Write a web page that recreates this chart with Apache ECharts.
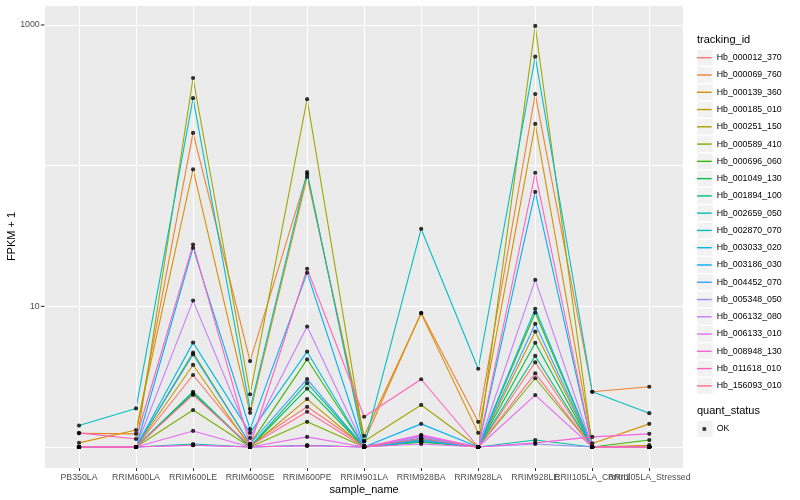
<!DOCTYPE html>
<html><head><meta charset="utf-8">
<script src="https://cdn.jsdelivr.net/npm/echarts@6/dist/echarts.min.js"></script>
<style>html,body{margin:0;padding:0;background:#fff}#c{width:800px;height:500px}</style>
</head><body><div id="c"></div>
<script>
// ---------- data (FPKM + 1) ----------
const categories = ['PB350LA','RRIM600LA','RRIM600LE','RRIM600SE','RRIM600PE','RRIM901LA','RRIM928BA','RRIM928LA','RRIM928LE','RRII105LA_Control','RRII105LA_Stressed'];
const trackingIds = ['Hb_000012_370','Hb_000069_760','Hb_000139_360','Hb_000185_010','Hb_000251_150','Hb_000589_410','Hb_000696_060','Hb_001049_130','Hb_001894_100','Hb_002659_050','Hb_002870_070','Hb_003033_020','Hb_003186_030','Hb_004452_070','Hb_005348_050','Hb_006132_080','Hb_006133_010','Hb_008948_130','Hb_011618_010','Hb_156093_010'];
const Hb_000012_370 = [1.0, 1.0, 3.25, 1.04, 1.93, 1.02, 1.12, 1.0, 4.0, 1.0, 1.0];
const Hb_000069_760 = [1.25, 1.24, 171, 4.08, 87, 1.10, 9.0, 1.51, 323, 2.47, 2.68];
const Hb_000139_360 = [1.07, 1.32, 94, 1.75, 83, 1.20, 8.9, 1.26, 198, 1.06, 1.46];
const Hb_000185_010 = [1.0, 1.0, 3.83, 1.0, 2.19, 1.0, 1.10, 1.0, 6.6, 1.0, 1.03];
const Hb_000251_150 = [1.0, 1.0, 420, 2.37, 297, 1.10, 1.99, 1.0, 984, 1.0, 1.0];
const Hb_000589_410 = [1.0, 1.0, 1.83, 1.0, 1.51, 1.0, 1.12, 1.0, 3.08, 1.0, 1.0];
const Hb_000696_060 = [1.0, 1.0, 4.68, 1.05, 4.2, 1.0, 1.08, 1.0, 9.0, 1.0, 1.12];
const Hb_001049_130 = [1.0, 1.0, 2.40, 1.0, 2.6, 1.0, 1.10, 1.0, 5.5, 1.0, 1.0];
const Hb_001894_100 = [1.0, 1.0, 2.47, 1.0, 2.84, 1.0, 1.15, 1.0, 4.44, 1.0, 1.0];
const Hb_002659_050 = [1.0, 1.0, 1.05, 1.0, 1.03, 1.0, 1.15, 1.0, 1.12, 1.0, 1.0];
const Hb_002870_070 = [1.42, 1.88, 302, 1.86, 90, 1.02, 35.5, 3.6, 595, 2.47, 1.74];
const Hb_003033_020 = [1.0, 1.0, 5.52, 1.26, 4.76, 1.0, 1.10, 1.0, 9.6, 1.0, 1.0];
const Hb_003186_030 = [1.0, 1.0, 26, 1.34, 17.3, 1.0, 1.46, 1.0, 65, 1.0, 1.0];
const Hb_004452_070 = [1.0, 1.0, 4.55, 1.05, 3.04, 1.0, 1.12, 1.0, 7.5, 1.0, 1.0];
const Hb_005348_050 = [1.0, 1.0, 1.03, 1.0, 1.02, 1.0, 1.18, 1.0, 1.05, 1.0, 1.0];
const Hb_006132_080 = [1.0, 1.0, 10.98, 1.16, 7.18, 1.0, 1.20, 1.0, 15.4, 1.0, 1.0];
const Hb_006133_010 = [1.0, 1.0, 1.30, 1.0, 1.18, 1.0, 1.05, 1.0, 2.34, 1.0, 1.0];
const Hb_008948_130 = [1.0, 1.0, 1.03, 1.0, 1.02, 1.0, 1.22, 1.0, 1.07, 1.18, 1.24];
const Hb_011618_010 = [1.26, 1.14, 27.5, 1.02, 18.5, 1.64, 3.03, 1.0, 89, 1.0, 1.0];
const Hb_156093_010 = [1.0, 1.0, 2.35, 1.02, 1.78, 1.0, 1.15, 1.0, 3.34, 1.0, 1.0];
const seriesValues = [Hb_000012_370,Hb_000069_760,Hb_000139_360,Hb_000185_010,Hb_000251_150,Hb_000589_410,Hb_000696_060,Hb_001049_130,Hb_001894_100,Hb_002659_050,Hb_002870_070,Hb_003033_020,Hb_003186_030,Hb_004452_070,Hb_005348_050,Hb_006132_080,Hb_006133_010,Hb_008948_130,Hb_011618_010,Hb_156093_010];
const yTickLabels = [10, 1000];
const quantStatus = ['OK'];

// ---------- style ----------
const palette = ['#F8766D','#EA8331','#D89000','#C09B00','#A3A500','#7CAE00','#39B600','#00BB4E','#00BF7D','#00C1A3','#00BFC4','#00BAE0','#00B0F6','#35A2FF','#9590FF','#C77CFF','#E76BF3','#FA62DB','#FF62BC','#FF6C91'];
const FONT = 'Liberation Sans, Arial, Helvetica, sans-serif';
const panel = {left: 45, right: 683, top: 5, bottom: 468};
const step = (649.3 - 79) / 10;
const dataLeft = 79 - step / 2, dataRight = 649.3 + step / 2;
const yMin = 0.709, yMax = 1387;
const legTop = 49.1, rowH = 17.27;

const chart = echarts.init(document.getElementById('c'), null, {renderer: 'canvas'});

const lineSeries = trackingIds.map((id, i) => ({
  name: id, type: 'line', xAxisIndex: 1, yAxisIndex: 1,
  data: seriesValues[i], color: palette[i],
  showSymbol: false, symbol: 'none', silent: true, z: 2,
  lineStyle: {width: 1.1, color: palette[i]},
  emphasis: {disabled: true}
}));

const points = [];
seriesValues.forEach(arr => arr.forEach((v, j) => points.push([j, v])));

const keyRects = [];
for (let i = 0; i < trackingIds.length; i++) {
  keyRects.push({type: 'rect', left: 697.3, top: legTop + i * rowH + 0.7, shape: {width: 15.4, height: rowH - 1.4}, style: {fill: '#F2F2F2'}, z: 0, silent: true});
}
keyRects.push({type: 'rect', left: 697.3, top: 429 - rowH / 2 + 0.7, shape: {width: 15.4, height: rowH - 1.4}, style: {fill: '#F2F2F2'}, z: 0, silent: true});

const isLabelled = v => yTickLabels.some(t => Math.abs(Math.log10(v) - Math.log10(t)) < 1e-6);

const option = {
  animation: false,
  backgroundColor: '#ffffff',
  textStyle: {fontFamily: FONT},
  title: [
    {text: 'tracking_id', left: 697, top: 34, padding: 0, textStyle: {fontSize: 11, fontWeight: 'normal', color: '#000', fontFamily: FONT}},
    {text: 'quant_status', left: 697, top: 405.5, padding: 0, textStyle: {fontSize: 11, fontWeight: 'normal', color: '#000', fontFamily: FONT}}
  ],
  legend: [
    {data: trackingIds, orient: 'vertical', left: 697, top: legTop, padding: 0, itemGap: 0,
     icon: 'rect', itemWidth: 14.7, itemHeight: 1.4, selectedMode: false,
     textStyle: {fontSize: 8.8, color: '#000', lineHeight: rowH, fontFamily: FONT}},
    {data: quantStatus, orient: 'vertical', left: 697, top: 429 - rowH / 2, padding: 0, itemGap: 0,
     icon: 'path://M0,0 M1.54,0 h1 v1 h-1 z M4.083,1', symbolKeepAspect: false, itemWidth: 14.7, itemHeight: 3.6, selectedMode: false,
     textStyle: {fontSize: 8.8, color: '#000', lineHeight: rowH, fontFamily: FONT}}
  ],
  graphic: keyRects,
  grid: [
    {left: panel.left, right: 800 - panel.right, top: panel.top, bottom: 500 - panel.bottom,
     show: true, backgroundColor: '#EBEBEB', borderWidth: 0, containLabel: false, outerBoundsMode: 'none'},
    {left: dataLeft, right: 800 - dataRight, top: panel.top, bottom: 500 - panel.bottom,
     show: false, containLabel: false, outerBoundsMode: 'none'}
  ],
  xAxis: [
    {type: 'value', gridIndex: 0, min: 0, max: 1, show: false},
    {type: 'category', gridIndex: 1, data: categories, boundaryGap: true,
     axisLine: {show: false},
     axisTick: {show: true, alignWithLabel: true, interval: 0, length: 3, lineStyle: {color: '#333333', width: 1}},
     axisLabel: {interval: 0, fontSize: 8.8, color: '#4D4D4D', margin: 5, fontFamily: FONT},
     splitLine: {show: false},
     name: 'sample_name', nameLocation: 'middle', nameGap: 16, nameMoveOverlap: false,
     nameTextStyle: {fontSize: 11, color: '#000', fontFamily: FONT}}
  ],
  yAxis: [
    {type: 'log', logBase: 10, gridIndex: 0, min: yMin, max: yMax,
     axisLine: {show: false}, axisTick: {show: false},
     axisLabel: {fontSize: 8.8, color: '#4D4D4D', margin: 0.5, fontFamily: FONT,
       showMinLabel: false, showMaxLabel: false,
       formatter: v => isLabelled(v) ? '{a|' + Math.round(v) + '}{g|}{t|}' : '',
       rich: {
         a: {fontSize: 8.8, color: '#4D4D4D', fontFamily: FONT},
         g: {width: 1.2, height: 1},
         t: {width: 3.6, height: 1.1, backgroundColor: '#333333'}
       }},
     splitLine: {show: true, lineStyle: {color: '#FFFFFF', width: 1.1}},
     name: 'FPKM + 1', nameLocation: 'middle', nameRotate: 90, nameGap: 27.5, nameMoveOverlap: false,
     nameTextStyle: {fontSize: 11, color: '#000', fontFamily: FONT}},
    {type: 'log', logBase: 10, gridIndex: 1, min: yMin, max: yMax, show: false,
     splitLine: {show: false}}
  ],
  series: [
    {name: '_vgrid', type: 'line', xAxisIndex: 1, yAxisIndex: 1, data: [], z: 1, silent: true,
     markLine: {silent: true, symbol: 'none', animation: false, label: {show: false},
       lineStyle: {color: '#FFFFFF', width: 1.1, type: 'solid'},
       emphasis: {disabled: true},
       data: categories.map(c => ({xAxis: c}))}},
    ...lineSeries,
    {name: 'OK', type: 'scatter', xAxisIndex: 1, yAxisIndex: 1, data: points,
     symbol: 'circle', symbolSize: 4.2, color: '#000000', itemStyle: {color: '#000000'}, z: 5, silent: true}
  ]
};
chart.setOption(option);
</script></body></html>
